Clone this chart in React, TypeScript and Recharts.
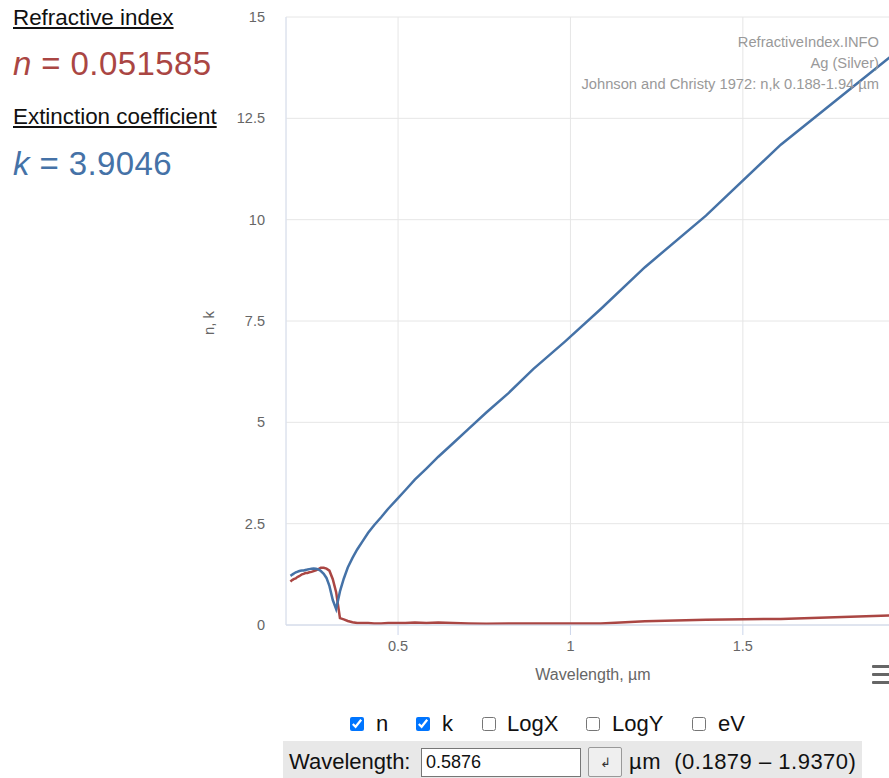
import React from 'react';
import { LineChart, Line, XAxis, YAxis, CartesianGrid } from 'recharts';

const wavelengths = [0.1879,0.1913,0.1952,0.1990,0.2033,0.2073,0.2119,0.2164,0.2214,0.2262,0.2313,0.2371,0.2426,0.2490,0.2551,0.2616,0.2689,0.2761,0.2844,0.2924,0.3009,0.3107,0.3204,0.3315,0.3425,0.3542,0.3679,0.3815,0.3974,0.4133,0.4305,0.4509,0.4714,0.4959,0.5209,0.5486,0.5821,0.6168,0.6595,0.7045,0.7560,0.8211,0.8920,0.9840,1.0880,1.2160,1.3930,1.6100,1.9370];
const nValues = [1.07,1.10,1.12,1.14,1.15,1.18,1.20,1.22,1.25,1.26,1.28,1.28,1.30,1.31,1.33,1.35,1.38,1.41,1.41,1.39,1.34,1.13,0.81,0.17,0.14,0.10,0.07,0.05,0.05,0.05,0.04,0.04,0.05,0.05,0.05,0.06,0.05,0.06,0.05,0.04,0.03,0.04,0.04,0.04,0.04,0.09,0.13,0.15,0.24];
const kValues = [1.212,1.232,1.255,1.277,1.296,1.312,1.325,1.336,1.342,1.344,1.357,1.367,1.378,1.389,1.393,1.387,1.372,1.331,1.264,1.161,0.964,0.616,0.392,0.829,1.142,1.419,1.657,1.864,2.070,2.275,2.462,2.657,2.869,3.093,3.324,3.586,3.858,4.152,4.483,4.838,5.242,5.727,6.312,6.992,7.795,8.828,10.10,11.85,14.08];
const xTicks = [0.5, 1, 1.5];
const yTicks = [0, 2.5, 5, 7.5, 10, 12.5, 15];
const creditLines = ['RefractiveIndex.INFO', 'Ag (Silver)', 'Johnson and Christy 1972: n,k 0.188-1.94 µm'];

const data = wavelengths.map((w, i) => ({ w, n: nValues[i], k: kValues[i] }));

const RED = '#AA4643';
const BLUE = '#4572A7';
const FONT = '"Liberation Sans", Arial, sans-serif';

const abs = (s: React.CSSProperties): React.CSSProperties => ({ position: 'absolute', whiteSpace: 'pre', ...s });

const cb: React.CSSProperties = { position: 'absolute', margin: 0, width: 14, height: 14, top: 717 };
const lbl = (left: number, text: string) => (
  <div style={abs({ left, top: 712, fontSize: 22, lineHeight: '24px', color: '#111' })}>{text}</div>
);

export default function App() {
  return (
    <div style={{ position: 'absolute', left: 0, top: 0, width: 889, height: 778, overflow: 'hidden', background: '#fff', fontFamily: FONT }}>
      <div style={{ position: 'absolute', left: 0, top: 0 }}>
        <LineChart width={903} height={700} data={data} margin={{ top: 17, right: 5, bottom: 15, left: 0 }}>
          <CartesianGrid stroke="#e6e6e6" />
          <XAxis
            dataKey="w"
            type="number"
            domain={[0.175, 1.95]}
            ticks={xTicks}
            allowDataOverflow
            height={60}
            axisLine={{ stroke: '#ccd6eb' }}
            tickLine={{ stroke: '#ccd6eb' }}
            tickSize={10}
            tickMargin={6}
            tick={{ fill: '#666', fontSize: 14.5, fontFamily: FONT }}
          />
          <YAxis
            type="number"
            domain={[0, 15]}
            ticks={yTicks}
            width={286}
            axisLine={{ stroke: '#d8e0f0' }}
            tickLine={false}
            tickMargin={15}
            tick={{ fill: '#666', fontSize: 14.5, fontFamily: FONT }}
          />
          <Line dataKey="n" stroke={RED} strokeWidth={2.5} dot={false} isAnimationActive={false} type="linear" />
          <Line dataKey="k" stroke={BLUE} strokeWidth={2.5} dot={false} isAnimationActive={false} type="linear" />
        </LineChart>
      </div>

      {/* credits */}
      {creditLines.map((t, i) => (
        <div key={i} style={abs({ right: 10, top: 34 + i * 21, fontSize: 14.7, lineHeight: '16px', color: '#999', textAlign: 'right' })}>{t}</div>
      ))}

      {/* axis titles */}
      <div style={abs({ left: 493, top: 666, width: 200, textAlign: 'center', fontSize: 16, color: '#666', lineHeight: '18px' })}>Wavelength, µm</div>
      <div style={abs({ left: 209, top: 323, fontSize: 15, color: '#666', lineHeight: '16px', transform: 'translate(-50%, -50%) rotate(-90deg)' })}>n, k</div>

      {/* left panel */}
      <div style={abs({ left: 13, top: 7, fontSize: 22.4, lineHeight: 1, color: '#111', textDecoration: 'underline' })}>Refractive index</div>
      <div style={abs({ left: 13, top: 47, fontSize: 33, lineHeight: 1, color: RED, letterSpacing: 0.4 })}><i>n</i> = 0.051585</div>
      <div style={abs({ left: 13, top: 106, fontSize: 22.4, lineHeight: 1, color: '#111', textDecoration: 'underline' })}>Extinction coefficient</div>
      <div style={abs({ left: 13, top: 147, fontSize: 33, lineHeight: 1, color: BLUE, letterSpacing: 0.4 })}><i>k</i> = 3.9046</div>

      {/* hamburger */}
      {[665, 673, 681].map((y) => (
        <div key={y} style={{ position: 'absolute', left: 872, top: y, width: 20, height: 3, background: '#666', borderRadius: 1 }} />
      ))}

      {/* checkboxes */}
      <input type="checkbox" checked readOnly style={{ ...cb, left: 350 }} />
      {lbl(376, 'n')}
      <input type="checkbox" checked readOnly style={{ ...cb, left: 416 }} />
      {lbl(442, 'k')}
      <input type="checkbox" readOnly style={{ ...cb, left: 482 }} />
      {lbl(507, 'LogX')}
      <input type="checkbox" readOnly style={{ ...cb, left: 586 }} />
      {lbl(612, 'LogY')}
      <input type="checkbox" readOnly style={{ ...cb, left: 692 }} />
      {lbl(718, 'eV')}

      {/* wavelength bar */}
      <div style={{ position: 'absolute', left: 283, top: 741, width: 579, height: 40, background: '#e8e8e8' }} />
      <div style={abs({ left: 289, top: 750, fontSize: 22, lineHeight: '24px', color: '#111' })}>Wavelength:</div>
      <div style={{ position: 'absolute', left: 421, top: 748, width: 160, height: 29, background: '#fff', border: '1px solid #767676', boxSizing: 'border-box' }} />
      <div style={abs({ left: 426, top: 752, fontSize: 18, lineHeight: '20px', color: '#111' })}>0.5876</div>
      <div style={{ position: 'absolute', left: 588, top: 747, width: 34, height: 30, background: '#efefef', border: '1px solid #999', borderRadius: 2, boxSizing: 'border-box', fontSize: 13, textAlign: 'center', lineHeight: '30px', color: '#333' }}>↲</div>
      <div style={abs({ left: 629, top: 750, fontSize: 22, lineHeight: '24px', color: '#111', letterSpacing: 0.5 })}>µm  (0.1879 – 1.9370)</div>
    </div>
  );
}
